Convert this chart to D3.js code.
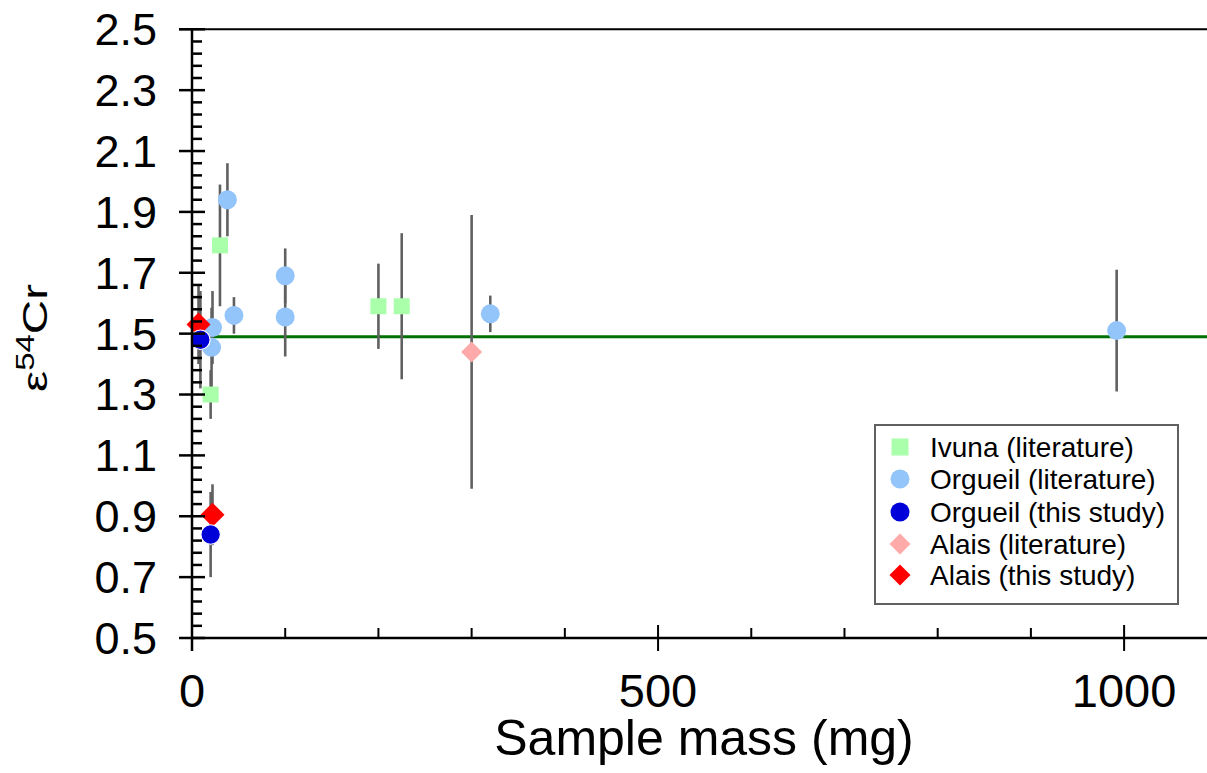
<!DOCTYPE html>
<html><head><meta charset="utf-8">
<script src="https://cdn.jsdelivr.net/npm/d3@7"></script>
<style>
body{margin:0;background:#fff}
svg{display:block;font-family:"Liberation Sans",Arial,sans-serif}
</style></head>
<body><svg id="c" width="1207" height="773"></svg>
<script>
// ---- data (sample mass in mg, ε54Cr, 2SD error) ----
const ivunaLitMass  = [20, 30, 200, 225];
const ivunaLitValue = [1.30, 1.79, 1.59, 1.59];
const ivunaLitErr   = [0.08, 0.20, 0.14, 0.24];

const orgueilLitMass  = [21, 22, 38, 45, 100, 100, 320, 992];
const orgueilLitValue = [1.455, 1.52, 1.94, 1.56, 1.69, 1.555, 1.565, 1.51];
const orgueilLitErr   = [0.13, 0.12, 0.12, 0.06, 0.09, 0.13, 0.06, 0.20];

const orgueilThisMass  = [9, 20];
const orgueilThisValue = [1.48, 0.84];
const orgueilThisErr   = [0.16, 0.14];

const alaisLitMass  = [300];
const alaisLitValue = [1.44];
const alaisLitErr   = [0.45];

const alaisThisMass  = [7, 22];
const alaisThisValue = [1.53, 0.905];
const alaisThisErr   = [0.13, 0.10];

const meanValue = 1.49;

const xTickValues = [0, 500, 1000];
const xMinorTicks = [100, 200, 300, 400, 600, 700, 800, 900];
const yTickValues = [0.5, 0.7, 0.9, 1.1, 1.3, 1.5, 1.7, 1.9, 2.1, 2.3, 2.5];

const legendLabels = ["Ivuna (literature)", "Orgueil (literature)", "Orgueil (this study)", "Alais (literature)", "Alais (this study)"];

// ---- build ----
const zip = (m, v, e) => m.map((d, i) => ({x: d, y: v[i], e: e[i]}));
const series = [
  {name: legendLabels[0], pts: zip(ivunaLitMass, ivunaLitValue, ivunaLitErr), shape: "square", size: 16, fill: "#aaffaa", order: 0},
  {name: legendLabels[1], pts: zip(orgueilLitMass, orgueilLitValue, orgueilLitErr), shape: "circle", size: 19, fill: "#93c5fb", order: 1},
  {name: legendLabels[2], pts: zip(orgueilThisMass, orgueilThisValue, orgueilThisErr), shape: "circle", size: 19.5, fill: "#0000d8", stroke: "#fff", order: 4},
  {name: legendLabels[3], pts: zip(alaisLitMass, alaisLitValue, alaisLitErr), shape: "diamond", size: 21, fill: "#ffaaaa", order: 2},
  {name: legendLabels[4], pts: zip(alaisThisMass, alaisThisValue, alaisThisErr), shape: "diamond", size: 24, fill: "#ff0000", order: 3}
];

const svg = d3.select("#c");
const x = d3.scaleLinear().domain([0, 1090]).range([192, 1208]);
const y = d3.scaleLinear().domain([0.5, 2.5]).range([638, 29.3]);

function marker(sel, shape, size) {
  if (shape === "circle") return sel.append("circle").attr("r", size / 2);
  if (shape === "square") return sel.append("rect").attr("x", -size / 2).attr("y", -size / 2).attr("width", size).attr("height", size);
  const h = size / 2;
  return sel.append("path").attr("d", `M0,${-h}L${h},0L0,${h}L${-h},0Z`);
}

// mean line
svg.append("line")
  .attr("x1", x(0)).attr("x2", x(1090))
  .attr("y1", y(meanValue)).attr("y2", y(meanValue))
  .attr("stroke", "#007000").attr("stroke-width", 3);

// top border
svg.append("line").attr("x1", 179).attr("x2", 1207).attr("y1", y(2.5)).attr("y2", y(2.5))
  .attr("stroke", "#000").attr("stroke-width", 2);

// error bars
const allPts = series.flatMap(s => s.pts);
svg.append("g").selectAll("line").data(allPts).join("line")
  .attr("x1", d => x(d.x)).attr("x2", d => x(d.x))
  .attr("y1", d => y(d.y + d.e)).attr("y2", d => y(d.y - d.e))
  .attr("stroke", "#606060").attr("stroke-width", 2.6);

// markers
series.slice().sort((a, b) => a.order - b.order).forEach(s => {
  const g = svg.append("g");
  s.pts.forEach(p => {
    const m = marker(g.append("g").attr("transform", `translate(${x(p.x)},${y(p.y)})`), s.shape, s.size)
      .attr("fill", s.fill);
    if (s.stroke) m.attr("stroke", s.stroke).attr("stroke-width", 1.2);
  });
});

// axes
const ax = svg.append("g").attr("stroke", "#000");
ax.append("line").attr("x1", x(0)).attr("x2", 1207).attr("y1", y(0.5)).attr("y2", y(0.5)).attr("stroke-width", 2.5);
ax.append("line").attr("x1", x(0)).attr("x2", x(0)).attr("y1", y(2.5)).attr("y2", y(0.5) + 13).attr("stroke-width", 2.5);

// x ticks
ax.selectAll(".xmaj").data(xTickValues).join("line")
  .attr("x1", d => x(d)).attr("x2", d => x(d)).attr("y1", y(0.5) - 13).attr("y2", y(0.5) + 13).attr("stroke-width", 2);
ax.selectAll(".xmin").data(xMinorTicks).join("line")
  .attr("x1", d => x(d)).attr("x2", d => x(d)).attr("y1", y(0.5) - 10).attr("y2", y(0.5)).attr("stroke-width", 2);

// y ticks
const yMinor = d3.range(0, 51).map(i => 0.5 + i * 0.04).filter(v => Math.abs(((v - 0.5) / 0.2) - Math.round((v - 0.5) / 0.2)) > 1e-6);
ax.selectAll(".ymaj").data(yTickValues).join("line")
  .attr("x1", x(0) - 13).attr("x2", x(0) + 13).attr("y1", d => y(d)).attr("y2", d => y(d)).attr("stroke-width", 2.5);
ax.selectAll(".ymin").data(yMinor).join("line")
  .attr("x1", x(0)).attr("x2", x(0) + 10).attr("y1", d => y(d)).attr("y2", d => y(d)).attr("stroke-width", 2.5);

// tick labels
svg.append("g").selectAll("text").data(yTickValues).join("text")
  .attr("x", 157).attr("y", d => y(d)).attr("dy", "0.355em")
  .attr("text-anchor", "end").attr("font-size", 45).text(d => d.toFixed(1));
svg.append("g").selectAll("text").data(xTickValues).join("text")
  .attr("x", d => x(d)).attr("y", 707)
  .attr("text-anchor", "middle").attr("font-size", 47).text(d => d3.format("d")(d));

// axis titles
svg.append("text").attr("x", 704).attr("y", 755).attr("text-anchor", "middle")
  .attr("font-size", 50).text("Sample mass (mg)");

const yt = svg.append("g").attr("transform", "translate(47,338) rotate(-90)")
  .append("text").attr("text-anchor", "middle").attr("font-size", 36).attr("transform", "scale(1.32,1)");
yt.append("tspan").text("ε");
yt.append("tspan").attr("font-size", 25).attr("dy", -13).text("54");
yt.append("tspan").attr("dy", 13).text("Cr");

// legend
const lg = svg.append("g");
lg.append("rect").attr("x", 875).attr("y", 425).attr("width", 303).attr("height", 179)
  .attr("fill", "#fff").attr("stroke", "#606060").attr("stroke-width", 2);
const rowsY = [447, 479, 512, 544, 575];
series.forEach((s, i) => {
  const sz = s.shape === "square" ? 17 : (s.shape === "diamond" ? 21 : 19);
  marker(lg.append("g").attr("transform", `translate(900,${rowsY[i]})`), s.shape, sz).attr("fill", s.fill);
  lg.append("text").attr("x", 930).attr("y", rowsY[i]).attr("dy", "0.355em")
    .attr("font-size", 28).text(s.name);
});
</script>
</body></html>
